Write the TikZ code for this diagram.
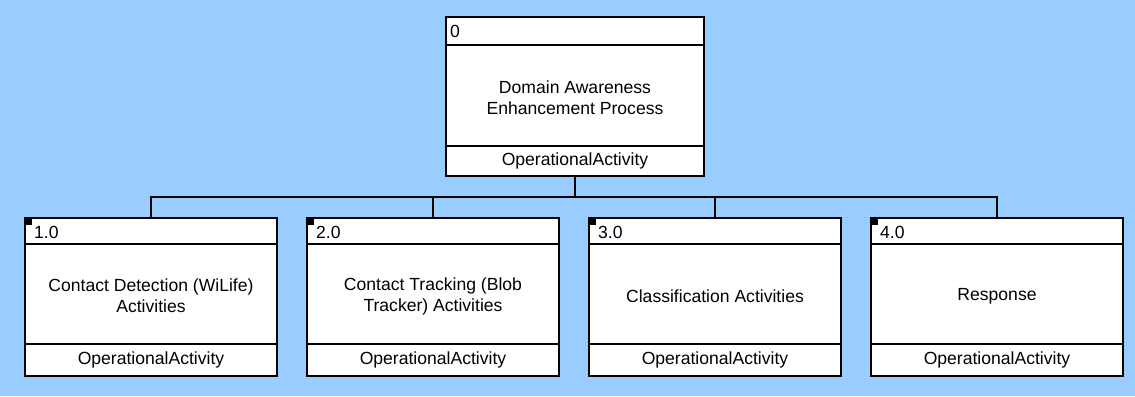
\documentclass[tikz,border=0pt]{standalone}
\usepackage{fontspec}
\setmainfont{Liberation Sans}
\usetikzlibrary{calc}
\definecolor{diagBg}{HTML}{99CCFF}

\begin{document}
\begin{tikzpicture}[x=0.02cm,y=-0.02cm,
  actbox/.style={draw,line width=1pt,fill=white,minimum width=5.04cm,
    minimum height=3.16cm,inner sep=0pt,outer sep=0pt},
  divider/.style={line width=1pt},
  link/.style={line width=1pt},
  idtext/.style={anchor=west,inner sep=1pt,font=\fontsize{10}{12}\selectfont},
  nametext/.style={align=center,font=\fontsize{10}{12}\selectfont},
  typetext/.style={inner sep=1pt,font=\fontsize{10}{12}\selectfont}]
\fill[diagBg] (0,0) rectangle (1135,396);
\useasboundingbox (0,0) rectangle (1135,396);
% Activitat arrel
\node[actbox,minimum width=5.16cm,minimum height=3.18cm] (top) at (575,96.5) {};
\draw[divider] ($(top.north west)+(0,28)$) -- ($(top.north east)+(0,28)$);
\draw[divider] ($(top.south west)+(0,-30)$) -- ($(top.south east)+(0,-30)$);
\node[idtext] (top-id) at ($(top.north west)+(2,14)$) {0};
\node[nametext] (top-name) at (575,98) {Domain Awareness\\Enhancement Process};
\node[typetext] (top-type) at ($(top.south)+(0,-15)$) {OperationalActivity};
% Subactivitats
\foreach \act/\cx/\id/\name in {a1/151/1.0/{Contact Detection (WiLife)\\Activities},
    a2/433/2.0/{Contact Tracking (Blob\\Tracker) Activities},
    a3/715/3.0/{Classification Activities},
    a4/997/4.0/{Response}}
{
  \node[actbox] (\act) at (\cx,297) {};
  \draw[divider] ($(\act.north west)+(0,26)$) -- ($(\act.north east)+(0,26)$);
  \draw[divider] ($(\act.south west)+(0,-32)$) -- ($(\act.south east)+(0,-32)$);
  \fill (\act.north west) rectangle ++(7,7);
  \node[idtext] (\act-id) at ($(\act.north west)+(7,14)$) {\id};
  \node[nametext] (\act-name) at (\cx,296) {\name};
  \node[typetext] (\act-type) at ($(\act.south)+(0,-16)$) {OperationalActivity};
  \draw[link] (top.south) -- ++(0,21) -| (\act.north);
}
\end{tikzpicture}
\end{document}
